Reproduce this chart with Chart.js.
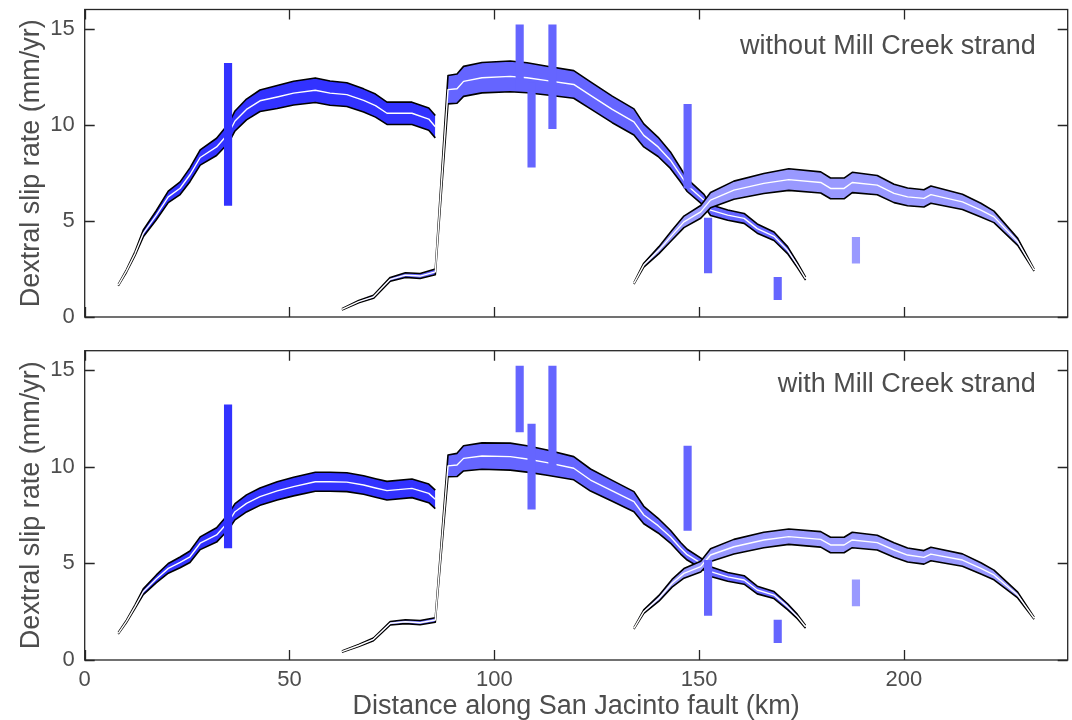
<!DOCTYPE html>
<html>
<head>
<meta charset="utf-8">
<title>Dextral slip rate - San Jacinto fault</title>
<script src="https://cdn.jsdelivr.net/npm/chart.js@4.4.1/dist/chart.umd.min.js"></script>
<style>
  body { margin: 0; background: #fff; }
  #arriba { position: absolute; left: 0; top: 0; }
  #abajo { position: absolute; left: 0; top: 335px; }
</style>
</head>
<body>
<canvas id="arriba" width="1072" height="335"></canvas>
<canvas id="abajo" width="1072" height="385"></canvas>
<script>
// ticks
const xTicks = [0, 50, 100, 150, 200];
const yTicks = [0, 5, 10, 15];

// tramo A (norte)
const xA = [8.2, 10.2, 12.3, 14.3, 17.5, 20.4, 23.3, 25.7, 28.2, 32.2, 35.1, 36.7, 39.5, 42.8, 47, 51, 56.3, 59.9, 64, 68.1, 71, 73.8, 79.9, 84, 85.6];
const midA1 = [1.66, 2.4, 3.3, 4.35, 5.3, 6.25, 6.7, 7.4, 8.3, 8.85, 9.55, 10.2, 10.8, 11.25, 11.45, 11.65, 11.8, 11.65, 11.57, 11.27, 11.0, 10.6, 10.6, 10.3, 9.9];
const errA1 = [0.04, 0.07, 0.1, 0.18, 0.24, 0.3, 0.33, 0.36, 0.4, 0.45, 0.5, 0.52, 0.54, 0.56, 0.6, 0.62, 0.64, 0.63, 0.62, 0.6, 0.6, 0.58, 0.58, 0.58, 0.58];
const midA2 = [1.38, 2.0, 2.76, 3.53, 4.2, 4.74, 5.05, 5.34, 6.04, 6.47, 7.15, 7.67, 8.1, 8.45, 8.75, 8.97, 9.22, 9.22, 9.2, 9.05, 8.9, 8.76, 8.88, 8.62, 8.31];
const errA2 = [0.04, 0.06, 0.09, 0.15, 0.2, 0.25, 0.28, 0.3, 0.33, 0.37, 0.4, 0.42, 0.44, 0.45, 0.47, 0.48, 0.49, 0.49, 0.49, 0.48, 0.48, 0.48, 0.48, 0.48, 0.48];

// tramo B (centro)
const xB = [62.8, 66.9, 70.5, 74.6, 78.3, 81.9, 85.6, 88.7, 90.9, 92.5, 97, 103.9, 108, 112.9, 119.4, 123.5, 128.8, 134.1, 136.5, 140, 143, 145.5, 147.1, 151.2, 152.8, 157, 161, 164.2, 168.3, 171.6, 174, 176];
const midB1 = [0.4, 0.8, 1.05, 1.96, 2.18, 2.13, 2.35, 11.83, 11.88, 12.26, 12.45, 12.52, 12.45, 12.3, 12.1, 11.53, 10.8, 10.15, 9.45, 8.85, 8.16, 7.38, 6.86, 6.08, 5.56, 5.3, 5.13, 4.6, 4.2, 3.48, 2.7, 2.0];
const errB1 = [0.03, 0.06, 0.08, 0.1, 0.12, 0.13, 0.15, 0.74, 0.76, 0.78, 0.79, 0.8, 0.78, 0.75, 0.72, 0.7, 0.69, 0.68, 0.6, 0.5, 0.43, 0.36, 0.33, 0.3, 0.28, 0.27, 0.26, 0.24, 0.22, 0.18, 0.13, 0.08];
const midB2 = [0.43, 0.75, 1.07, 1.9, 1.98, 1.93, 2.07, 10.04, 10.09, 10.43, 10.55, 10.52, 10.4, 10.21, 9.92, 9.31, 8.75, 8.19, 7.5, 6.95, 6.38, 5.78, 5.45, 4.91, 4.57, 4.3, 4.14, 3.62, 3.36, 2.76, 2.25, 1.72];
const errB2 = [0.03, 0.05, 0.07, 0.09, 0.1, 0.11, 0.12, 0.56, 0.6, 0.65, 0.68, 0.7, 0.68, 0.65, 0.6, 0.57, 0.54, 0.52, 0.45, 0.38, 0.33, 0.3, 0.28, 0.26, 0.25, 0.23, 0.22, 0.2, 0.18, 0.15, 0.11, 0.07];

// tramo C (sur)
const xC = [134.1, 136.5, 140.2, 143.4, 146.3, 150.4, 152.8, 158.5, 165.8, 171.9, 179.7, 182.1, 185.4, 187.4, 193.5, 197.6, 200.9, 204.9, 206.6, 214.3, 218.8, 222, 227.8, 231.8];
const midC1 = [1.75, 2.7, 3.48, 4.26, 4.95, 5.47, 6.08, 6.6, 6.95, 7.15, 7.0, 6.69, 6.69, 7.0, 6.86, 6.43, 6.25, 6.17, 6.37, 5.99, 5.56, 5.21, 3.91, 2.44];
const errC1 = [0.04, 0.1, 0.18, 0.25, 0.3, 0.33, 0.4, 0.47, 0.52, 0.56, 0.55, 0.54, 0.54, 0.53, 0.5, 0.48, 0.46, 0.45, 0.45, 0.4, 0.36, 0.3, 0.18, 0.05];
const midC2 = [1.64, 2.5, 3.19, 3.97, 4.48, 4.83, 5.43, 5.86, 6.21, 6.38, 6.24, 5.95, 5.95, 6.21, 6.07, 5.69, 5.43, 5.31, 5.48, 5.17, 4.74, 4.4, 3.36, 2.16];
const errC2 = [0.04, 0.09, 0.15, 0.2, 0.25, 0.28, 0.33, 0.38, 0.4, 0.4, 0.4, 0.4, 0.4, 0.4, 0.38, 0.37, 0.36, 0.35, 0.35, 0.32, 0.29, 0.25, 0.15, 0.05];

// mediciones geologicas (iguales en los dos paneles)
const obsX = [35, 106.2, 109.1, 114.2, 147.2, 152.2, 169.2, 188.3];
const obsMin = [5.8, 11.8, 7.8, 9.8, 6.7, 2.3, 0.9, 2.8];
const obsMax = [13.2, 15.2, 12.2, 15.2, 11.07, 5.15, 2.07, 4.15];
const obsTramo = [0, 1, 1, 1, 1, 1, 1, 2];

const colores = ['#3232ff', '#6565ff', '#9999ff'];
const fuente = '"Liberation Sans", Arial, sans-serif';
const gris = '#4d4d4d';

function banda(xs, mid, err, color, ord) {
    const sup = xs.map((x, i) => ({ x: x, y: mid[i] + err[i] }));
    const inf = xs.map((x, i) => ({ x: x, y: mid[i] - err[i] }));
    const cen = xs.map((x, i) => ({ x: x, y: mid[i] }));
    const base = { type: 'line', pointRadius: 0, tension: 0, borderJoinStyle: 'round' };
    return [
        Object.assign({}, base, { data: sup, borderColor: '#000', borderWidth: 1.6, fill: false, order: ord + 1 }),
        Object.assign({}, base, { data: inf, borderColor: '#000', borderWidth: 1.6, backgroundColor: color, fill: '-1', order: ord + 2 }),
        Object.assign({}, base, { data: cen, borderColor: '#fff', borderWidth: 1.4, fill: false, order: ord })
    ];
}

// marco con ticks hacia adentro y texto del panel
const marco = {
    id: 'marco',
    afterDatasetsDraw(chart, args, opts) {
        const ctx = chart.ctx;
        const a = chart.chartArea;
        const sx = chart.scales.x, sy = chart.scales.y;
        ctx.save();
        ctx.strokeStyle = '#262626';
        ctx.lineWidth = 1.3;
        ctx.strokeRect(a.left, a.top, a.right - a.left, a.bottom - a.top);
        ctx.beginPath();
        xTicks.forEach(v => {
            const p = Math.round(sx.getPixelForValue(v)) + 0.5;
            ctx.moveTo(p, a.bottom); ctx.lineTo(p, a.bottom - 10);
            ctx.moveTo(p, a.top); ctx.lineTo(p, a.top + 10);
        });
        yTicks.forEach(v => {
            const p = Math.round(sy.getPixelForValue(v)) + 0.5;
            ctx.moveTo(a.left, p); ctx.lineTo(a.left + 10, p);
            ctx.moveTo(a.right, p); ctx.lineTo(a.right - 10, p);
        });
        ctx.stroke();
        ctx.font = '27px ' + fuente;
        ctx.fillStyle = gris;
        ctx.textAlign = 'right';
        ctx.textBaseline = 'middle';
        ctx.fillText(opts.texto, a.right - 32, a.top + opts.dy);
        ctx.restore();
    }
};

function crearPanel(id, curvas, texto, conEjeX, padTop, altoX, dy) {
    let datasets = [{
        type: 'bar',
        data: obsX.map((x, i) => ({ x: x, y: [obsMin[i], obsMax[i]] })),
        backgroundColor: obsTramo.map(t => colores[t]),
        borderWidth: 0,
        barThickness: 7.5,
        grouped: false,
        order: 0
    }];
    curvas.forEach((c, k) => {
        datasets = datasets.concat(banda(c[0], c[1], c[2], c[3], 1 + k * 3));
    });

    return new Chart(document.getElementById(id), {
        type: 'line',
        data: { datasets: datasets },
        plugins: [marco],
        options: {
            responsive: false,
            animation: false,
            devicePixelRatio: 1,
            layout: { padding: { top: padTop, right: 4.3, left: 0, bottom: 0 } },
            plugins: {
                legend: { display: false },
                tooltip: { enabled: false },
                marco: { texto: texto, dy: dy }
            },
            scales: {
                x: {
                    type: 'linear', min: 0, max: 240, offset: false,
                    grid: { display: false, drawTicks: false },
                    border: { display: false },
                    afterBuildTicks: s => { s.ticks = xTicks.map(v => ({ value: v })); },
                    afterFit: s => { s.height = altoX; s.paddingLeft = 0; s.paddingRight = 0; },
                    ticks: { display: conEjeX, color: gris, padding: 7, maxRotation: 0, font: { family: fuente, size: 22 } },
                    title: {
                        display: conEjeX, text: 'Distance along San Jacinto fault (km)', color: gris,
                        padding: { top: 0, bottom: 0 }, font: { family: fuente, size: 27, lineHeight: 1 }
                    }
                },
                y: {
                    type: 'linear', min: 0, max: 16,
                    grid: { display: false, drawTicks: false },
                    border: { display: false },
                    afterBuildTicks: s => { s.ticks = yTicks.map(v => ({ value: v })); },
                    afterFit: s => { s.width = 84.7; s.paddingTop = 0; s.paddingBottom = 0; },
                    ticks: { color: gris, padding: 10, font: { family: fuente, size: 22 } },
                    title: {
                        display: true, text: 'Dextral slip rate (mm/yr)', color: gris,
                        padding: { top: 18, bottom: 0 }, font: { family: fuente, size: 27, lineHeight: 1 }
                    }
                }
            }
        }
    });
}

crearPanel('arriba', [
    [xC, midC1, errC1, colores[2]],
    [xB, midB1, errB1, colores[1]],
    [xA, midA1, errA1, colores[0]]
], 'without Mill Creek strand', false, 9.5, 18, 37.5);

crearPanel('abajo', [
    [xC, midC2, errC2, colores[2]],
    [xB, midB2, errB2, colores[1]],
    [xA, midA2, errA2, colores[0]]
], 'with Mill Creek strand', true, 15.7, 60, 33.5);
</script>
</body>
</html>
